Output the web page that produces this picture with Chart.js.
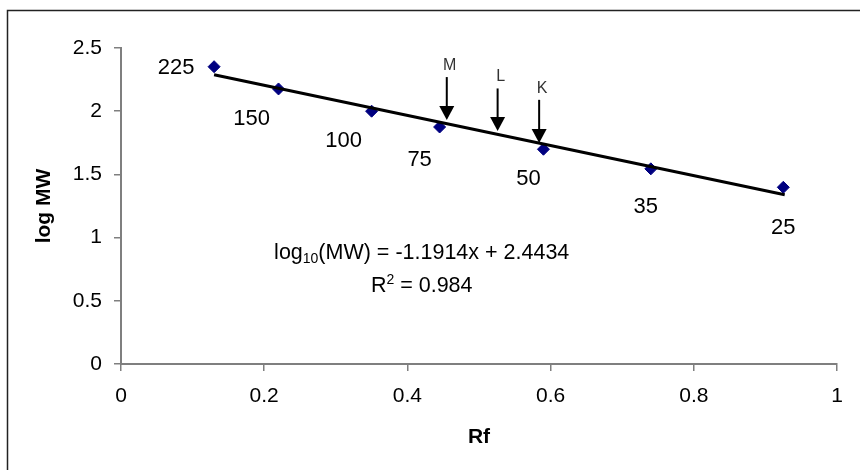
<!DOCTYPE html>
<html>
<head>
<meta charset="utf-8">
<script src="https://cdn.jsdelivr.net/npm/chart.js@4"></script>
<style>
  html, body { margin: 0; padding: 0; background: #fff; }
  canvas { display: block; }
</style>
</head>
<body>
<canvas id="myChart" width="860" height="470"></canvas>
<script>
// marker proteins (kDa) with their Rf and log MW
const markerLabels = ['225', '150', '100', '75', '50', '35', '25'];
const rfValues = [0.13, 0.22, 0.35, 0.445, 0.59, 0.74, 0.925];
const logMW = [2.352, 2.176, 2.0, 1.875, 1.699, 1.544, 1.398];

// linear trendline end points
const trendRf = [0.13, 0.927];
const trendLogMW = [2.288, 1.339];

// sample bands marked with arrows
const bandNames = ['M', 'L', 'K'];
const bandRf = [0.455, 0.526, 0.584];
const bandArrowTop = [2.27, 2.18, 2.09];
const bandArrowTip = [1.93, 1.843, 1.748];

const xTicks = [0, 0.2, 0.4, 0.6, 0.8, 1];
const yTicks = [0, 0.5, 1, 1.5, 2, 2.5];

const FONT = '"Liberation Sans", Arial, sans-serif';

// pixel offsets for the marker labels (style only)
const labelOffsets = [[-38, 1], [-27, 30], [-28, 30], [-20, 33], [-15, 30], [-5, 38], [0, 41]];

const annotations = {
    id: 'annotations',
    beforeDraw(chart) {
        const { ctx } = chart;
        ctx.save();
        ctx.fillStyle = '#fff';
        ctx.fillRect(0, 0, chart.width, chart.height);
        ctx.strokeStyle = '#222';
        ctx.lineWidth = 1.5;
        ctx.strokeRect(7.5, 10.5, chart.width + 20, chart.height + 20);
        ctx.restore();
    },
    afterDatasetsDraw(chart) {
        const { ctx, scales: { x, y } } = chart;
        ctx.save();

        // marker labels
        ctx.fillStyle = '#000';
        ctx.font = '22px ' + FONT;
        ctx.textAlign = 'center';
        ctx.textBaseline = 'middle';
        markerLabels.forEach((lab, i) => {
            const px = x.getPixelForValue(rfValues[i]) + labelOffsets[i][0];
            const py = y.getPixelForValue(logMW[i]) + labelOffsets[i][1];
            ctx.fillText(lab, px, py);
        });

        // arrows
        bandNames.forEach((name, i) => {
            const px = x.getPixelForValue(bandRf[i]);
            const top = y.getPixelForValue(bandArrowTop[i]);
            const tip = y.getPixelForValue(bandArrowTip[i]);
            const head = 14;
            ctx.strokeStyle = '#000';
            ctx.lineWidth = 2;
            ctx.beginPath();
            ctx.moveTo(px, top);
            ctx.lineTo(px, tip - head + 1);
            ctx.stroke();
            ctx.fillStyle = '#000';
            ctx.beginPath();
            ctx.moveTo(px - 7.5, tip - head);
            ctx.lineTo(px + 7.5, tip - head);
            ctx.lineTo(px, tip);
            ctx.closePath();
            ctx.fill();

            ctx.fillStyle = '#333';
            ctx.font = '16px ' + FONT;
            ctx.textAlign = 'center';
            ctx.textBaseline = 'alphabetic';
            ctx.fillText(name, px + 3, top - 7);
        });

        // regression equation
        const cx = x.getPixelForValue(0.42);
        const big = '21.5px ' + FONT;
        const small = '14px ' + FONT;
        const parts1 = [['log', big, 0], ['10', small, 4], ['(MW) = -1.1914x + 2.4434', big, 0]];
        const parts2 = [['R', big, 0], ['2', small, -8], [' = 0.984', big, 0]];
        const drawParts = (parts, baseY) => {
            let w = 0;
            parts.forEach(p => { ctx.font = p[1]; w += ctx.measureText(p[0]).width; });
            let px = cx - w / 2;
            ctx.textAlign = 'left';
            ctx.textBaseline = 'alphabetic';
            ctx.fillStyle = '#000';
            parts.forEach(p => {
                ctx.font = p[1];
                ctx.fillText(p[0], px, baseY + p[2]);
                px += ctx.measureText(p[0]).width;
            });
        };
        drawParts(parts1, y.getPixelForValue(0.886) + 7);
        drawParts(parts2, y.getPixelForValue(0.625) + 7);

        ctx.restore();
    }
};

const data = {
    datasets: [
        {
            label: 'Trendline',
            data: trendRf.map((v, i) => ({ x: v, y: trendLogMW[i] })),
            showLine: true,
            borderColor: '#000',
            borderWidth: 3,
            pointRadius: 0
        },
        {
            label: 'Markers',
            data: rfValues.map((v, i) => ({ x: v, y: logMW[i] })),
            pointStyle: 'rectRot',
            pointRadius: 6,
            backgroundColor: '#000080',
            borderColor: '#000080',
            borderWidth: 1
        }
    ]
};

const axisColor = '#7f7f7f';
const tickFont = { family: FONT, size: 21 };

const config = {
    type: 'scatter',
    data: data,
    options: {
        responsive: false,
        animation: false,
        layout: { padding: { left: 0, top: 48, right: 23, bottom: 0 } },
        plugins: { legend: { display: false }, tooltip: { enabled: false } },
        scales: {
            x: {
                min: 0,
                max: 1,
                afterBuildTicks: s => { s.ticks = xTicks.map(v => ({ value: v })); },
                afterFit: s => { s.height = 106; },
                border: { color: axisColor, width: 2 },
                grid: { drawOnChartArea: false, color: axisColor, tickLength: 7, lineWidth: 1.5 },
                ticks: { color: '#000', font: tickFont, padding: 13, maxRotation: 0, callback: v => String(+v.toFixed(2)) },
                title: { display: true, text: 'Rf', color: '#000', font: { family: FONT, size: 21, weight: 'bold' }, padding: { top: 0, bottom: 20 } }
            },
            y: {
                min: 0,
                max: 2.5,
                afterBuildTicks: s => { s.ticks = yTicks.map(v => ({ value: v })); },
                afterFit: s => { s.width = 121; },
                border: { color: axisColor, width: 2 },
                grid: { drawOnChartArea: false, color: axisColor, tickLength: 7, lineWidth: 1.5 },
                ticks: { color: '#000', font: tickFont, padding: 12, callback: v => String(+v.toFixed(2)) },
                title: { display: true, text: 'log MW', color: '#000', font: { family: FONT, size: 21, weight: 'bold' }, padding: { top: 32, bottom: 0 } }
            }
        }
    },
    plugins: [annotations]
};

new Chart(document.getElementById('myChart'), config);
</script>
</body>
</html>
